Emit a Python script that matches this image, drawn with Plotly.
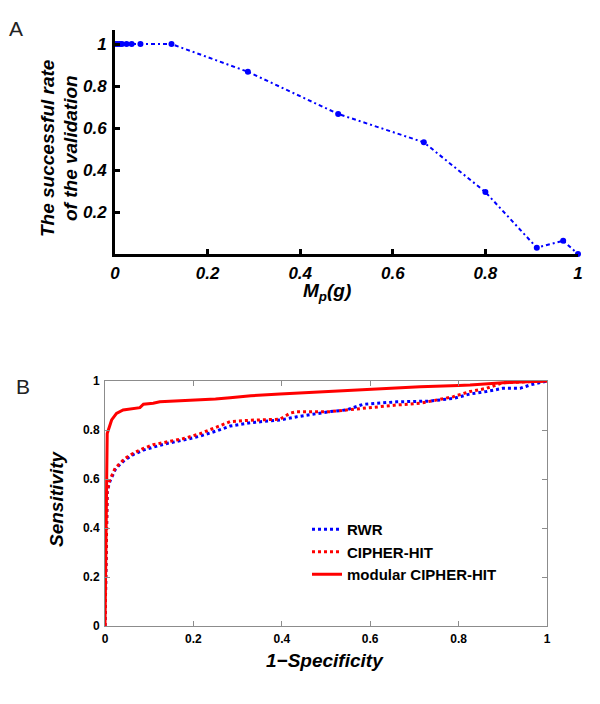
import plotly.graph_objects as go

W, H = 600, 704
OFF = 8  # page body offset in the browser

# Panel A data
mp_x = [0, 0.005, 0.01, 0.015, 0.025, 0.036, 0.055, 0.122, 0.287, 0.482, 0.667, 0.80, 0.911, 0.968, 1.0]
mp_y = [1, 1, 1, 1, 1, 1, 1, 1, 0.868, 0.667, 0.532, 0.295, 0.03, 0.063, 0.0]

# Panel B data (ROC curves)
mod_x = [0, 0.002, 0.004, 0.005, 0.015, 0.026, 0.041, 0.064, 0.079, 0.087, 0.109, 0.124, 0.16, 0.2, 0.25,
         0.283, 0.33, 0.396, 0.45, 0.509, 0.6, 0.713, 0.8, 0.826, 0.9, 0.96, 1.0]
mod_y = [0, 0.3, 0.6, 0.786, 0.841, 0.868, 0.882, 0.888, 0.891, 0.905, 0.909, 0.915, 0.918, 0.922, 0.927,
         0.932, 0.94, 0.947, 0.952, 0.957, 0.967, 0.977, 0.982, 0.984, 0.993, 0.997, 1.0]

cip_x = [0, 0.002, 0.005, 0.011, 0.023, 0.034, 0.045, 0.064, 0.087, 0.109, 0.14, 0.18, 0.215, 0.25, 0.283,
         0.33, 0.396, 0.419, 0.434, 0.509, 0.547, 0.584, 0.66, 0.713, 0.788, 0.826, 0.863, 0.9, 0.962, 1.0]
cip_y = [0, 0.3, 0.55, 0.596, 0.644, 0.664, 0.684, 0.705, 0.725, 0.74, 0.752, 0.766, 0.785, 0.81, 0.834,
         0.84, 0.844, 0.869, 0.875, 0.875, 0.882, 0.888, 0.902, 0.909, 0.936, 0.957, 0.97, 0.993, 0.996, 1.0]

rwr_x = [0, 0.002, 0.005, 0.011, 0.023, 0.034, 0.045, 0.064, 0.087, 0.109, 0.14, 0.18, 0.215, 0.25, 0.283,
         0.33, 0.396, 0.434, 0.509, 0.547, 0.584, 0.66, 0.735, 0.788, 0.826, 0.863, 0.9, 0.939, 0.962, 1.0]
rwr_y = [0, 0.3, 0.55, 0.59, 0.638, 0.66, 0.678, 0.7, 0.718, 0.73, 0.745, 0.76, 0.775, 0.795, 0.816,
         0.83, 0.841, 0.854, 0.875, 0.882, 0.905, 0.915, 0.918, 0.929, 0.947, 0.957, 0.97, 0.97, 0.984, 1.0]

tick_vals = [0, 0.2, 0.4, 0.6, 0.8, 1]
tick_text = ["0", "0.2", "0.4", "0.6", "0.8", "1"]
tick_vals_a_y = [0.2, 0.4, 0.6, 0.8, 1]
tick_text_a_y = ["0.2", "0.4", "0.6", "0.8", "1"]

FONT = "Liberation Sans, Arial, sans-serif"

def px_x(p):
    return (p - OFF) / W

def px_y(p):
    return 1 - (p - OFF) / H

fig = go.Figure()

fig.add_trace(go.Scatter(
    x=mp_x, y=mp_y, mode="lines+markers", xaxis="x", yaxis="y",
    line=dict(color="#0000FF", width=2, dash="4px,3px,2px,3px"),
    marker=dict(color="#0000FF", size=6), cliponaxis=False, showlegend=False))

fig.add_trace(go.Scatter(
    x=rwr_x, y=rwr_y, mode="lines", xaxis="x2", yaxis="y2", name="RWR",
    line=dict(color="#0000FF", width=3, dash="dot")))
fig.add_trace(go.Scatter(
    x=cip_x, y=cip_y, mode="lines", xaxis="x2", yaxis="y2", name="CIPHER-HIT",
    line=dict(color="#FF0000", width=3, dash="dot")))
fig.add_trace(go.Scatter(
    x=mod_x, y=mod_y, mode="lines", xaxis="x2", yaxis="y2", name="modular CIPHER-HIT",
    line=dict(color="#FF0000", width=3)))

tfA = dict(family=FONT, size=17, color="black", weight="bold", style="italic")
tfB = dict(family=FONT, size=12, color="black", weight="bold")

common = dict(showgrid=False, zeroline=False, automargin=False, ticklabelstandoff=2)

fig.update_layout(
    width=W, height=H,
    margin=dict(l=0, r=0, t=0, b=0, autoexpand=False),
    paper_bgcolor="white", plot_bgcolor="white",
    font=dict(family=FONT),
    xaxis=dict(domain=[px_x(115), px_x(578)], anchor="y", range=[0, 1],
               tickvals=tick_vals, ticktext=tick_text, tickfont=tfA,
               showline=True, linecolor="black", linewidth=3, ticks="inside",
               ticklen=5, tickwidth=3, tickcolor="black", **common),
    yaxis=dict(domain=[px_y(254), px_y(30)], anchor="x", range=[0, 1.067],
               tickvals=tick_vals_a_y, ticktext=tick_text_a_y, tickfont=tfA,
               showline=True, linecolor="black", linewidth=3, ticks="inside",
               ticklen=5, tickwidth=3, tickcolor="black", **common),
    xaxis2=dict(domain=[px_x(105), px_x(547)], anchor="y2", range=[0, 1],
                tickvals=tick_vals, ticktext=tick_text, tickfont=tfB,
                showline=True, mirror="ticks", linecolor="#8c8c8c", linewidth=1,
                ticks="inside", ticklen=5, tickcolor="#8c8c8c", **common),
    yaxis2=dict(domain=[px_y(626), px_y(381)], anchor="x2", range=[0, 1],
                tickvals=tick_vals, ticktext=tick_text, tickfont=tfB,
                showline=True, mirror="ticks", linecolor="#8c8c8c", linewidth=1,
                ticks="inside", ticklen=5, tickcolor="#8c8c8c", **common),
    legend=dict(x=px_x(307), y=px_y(513), xanchor="left", yanchor="top",
                bgcolor="rgba(0,0,0,0)", borderwidth=0,
                font=dict(family=FONT, size=15, color="black", weight="bold"),
                tracegroupgap=0),
)

def note(text, x, y, size, angle=0, color="black"):
    return dict(text=text, x=px_x(x), y=px_y(y), xref="paper", yref="paper",
                xanchor="center", yanchor="middle", showarrow=False, textangle=angle,
                font=dict(family=FONT, size=size, color=color))

ann = [
    note("A", 16, 29, 21, color="#222"),
    note("B", 23, 386, 21, color="#222"),
    note("<b><i>The successful rate</i></b>", 47, 148, 19, -90),
    note("<b><i>of the validation</i></b>", 70, 148, 19, -90),
    note("<b><i>M<sub>p</sub>(g)</i></b>", 327, 292, 19),
    note("<b><i>Sensitivity</i></b>", 57, 499, 19, -90),
    note("<b><i>1\u2212Specificity</i></b>", 325, 660, 19),
]
fig.update_layout(annotations=ann)

fig.write_html("out.html")
